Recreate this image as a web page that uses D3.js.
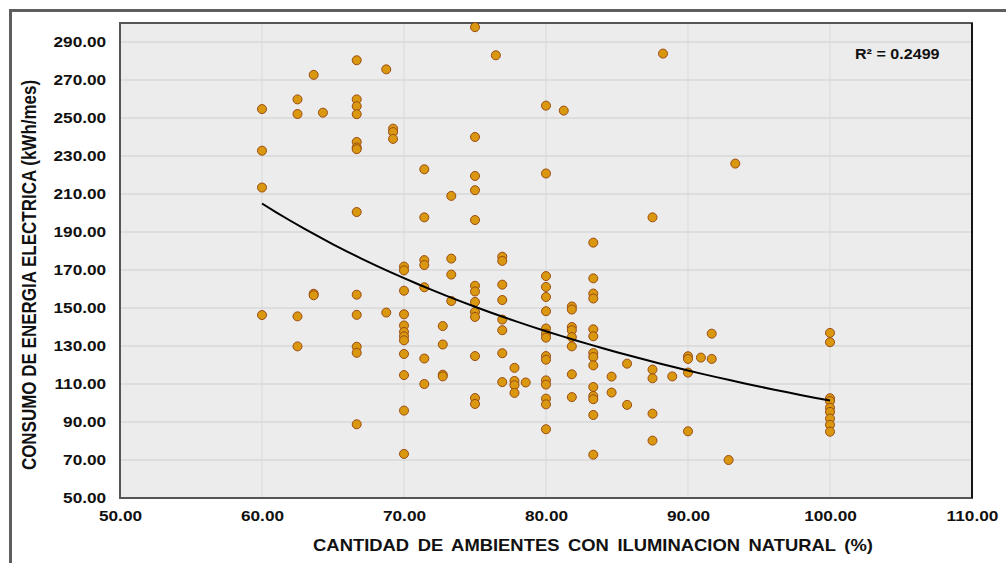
<!DOCTYPE html>
<html>
<head>
<meta charset="utf-8">
<script src="https://cdn.jsdelivr.net/npm/d3@7"></script>
<style>
  body { margin: 0; background: #fff; }
  svg text { font-family: "Liberation Sans", Arial, sans-serif; font-weight: bold; fill: #111; }
</style>
</head>
<body>
<div id="chart"></div>
<script>
// % of rooms with natural light (one entry per column of points)
var ambientes = [60, 62.5, 63.64, 64.29, 66.67, 68.75, 69.23, 70, 71.43, 72.73, 73.33, 75, 76.47, 76.92,
                 77.78, 78.57, 80, 81.25, 81.82, 83.33, 84.62, 85.71, 87.5, 88.24, 88.89, 90, 90.91,
                 91.67, 92.86, 93.33, 100];

// consumption (kWh/mes) read for each column above
var consumo = [
    [254.7, 232.8, 213.4, 146.3],
    [259.8, 252.1, 145.6, 129.8],
    [272.7, 157.5, 156.7],
    [252.8],
    [280.4, 259.8, 256.2, 252.0, 237.4, 234.5, 233.6, 200.5, 157.0, 146.4, 129.6, 126.4, 88.8],
    [275.6, 147.6],
    [244.4, 242.6, 239.0],
    [171.8, 169.8, 159.1, 146.7, 140.8, 137.4, 135.1, 133.0, 125.8, 114.7, 96.0, 73.2],
    [223.0, 197.7, 175.2, 172.6, 160.9, 123.4, 110.0],
    [140.5, 130.8, 114.9, 114.0],
    [209.0, 176.0, 167.6, 153.7],
    [297.8, 240.0, 219.5, 212.0, 196.3, 161.7, 158.7, 153.2, 147.9, 145.3, 124.7, 102.6, 99.5],
    [283.0],
    [177.0, 174.8, 162.3, 154.2, 143.9, 138.3, 126.2, 111.0],
    [118.5, 111.6, 109.4, 105.3],
    [110.8],
    [256.5, 220.8, 166.8, 161.1, 155.8, 148.3, 139.2, 136.5, 134.4, 124.7, 122.8, 111.9, 109.7, 102.3, 99.3, 86.2],
    [253.9],
    [150.8, 149.2, 140.0, 138.3, 134.7, 129.8, 115.1, 103.1],
    [184.4, 165.6, 157.6, 155.0, 138.8, 135.1, 126.3, 124.2, 119.8, 108.4, 103.7, 102.0, 93.7, 72.8],
    [113.9, 105.5],
    [120.7, 99.0],
    [197.7, 117.6, 113.0, 94.4, 80.2],
    [283.9],
    [114.0],
    [124.6, 123.2, 116.0, 85.1],
    [123.9],
    [136.5, 123.2],
    [70.0],
    [226.0],
    [136.9, 132.0, 102.5, 101.0, 97.5, 95.3, 91.8, 88.5, 84.9]
];

var xTicks = [50, 60, 70, 80, 90, 100, 110];
var yTicks = [50, 70, 90, 110, 130, 150, 170, 190, 210, 230, 250, 270, 290];
var r2Label = "R\u00B2 = 0.2499";
var xTitle = "CANTIDAD DE AMBIENTES CON ILUMINACION NATURAL (%)";
var yTitle = "CONSUMO DE ENERGIA ELECTRICA (kWh/mes)";

var outerWidth = 1006;
var outerHeight = 563;
var margin = { left: 120, top: 23, right: 34, bottom: 65 };
var innerWidth  = outerWidth  - margin.left - margin.right;
var innerHeight = outerHeight - margin.top  - margin.bottom;
var stretch = "scale(1.15,1)";

var data = [];
ambientes.forEach(function(x, i) {
    consumo[i].forEach(function(y) {
        data.push({ x: x, y: y });
    });
});

var svg = d3.select("#chart").append("svg")
    .attr("width", outerWidth)
    .attr("height", outerHeight);

// outer frame (cut off at right / bottom like the screenshot)
svg.append("rect")
    .attr("x", 10.5).attr("y", 10.5)
    .attr("width", 1010).attr("height", 570)
    .attr("fill", "none")
    .attr("stroke", "#5e5e5e")
    .attr("stroke-width", 3);

var g = svg.append("g")
    .attr("transform", "translate(" + margin.left + "," + margin.top + ")");

var xScale = d3.scaleLinear().domain([50, 110]).range([0, innerWidth]);
var yScale = d3.scaleLinear().domain([50, 300]).range([innerHeight, 0]);

g.append("rect")
    .attr("width", innerWidth)
    .attr("height", innerHeight)
    .attr("fill", "#ececec");

// grid
g.append("g").selectAll("line").data(yTicks).enter().append("line")
    .attr("x1", 0).attr("x2", innerWidth)
    .attr("y1", function(d) { return yScale(d); })
    .attr("y2", function(d) { return yScale(d); })
    .attr("stroke", "#d9d9d9").attr("stroke-width", 1.5);
g.append("g").selectAll("line").data(xTicks).enter().append("line")
    .attr("y1", 0).attr("y2", innerHeight)
    .attr("x1", function(d) { return xScale(d); })
    .attr("x2", function(d) { return xScale(d); })
    .attr("stroke", "#d9d9d9").attr("stroke-width", 1);

// axes
var yAxisG = g.append("g")
    .call(d3.axisLeft(yScale).tickValues(yTicks).tickFormat(d3.format(".2f")).tickSize(0).tickPadding(12));
var xAxisG = g.append("g")
    .attr("transform", "translate(0," + innerHeight + ")")
    .call(d3.axisBottom(xScale).tickValues(xTicks).tickFormat(d3.format(".2f")).tickSize(0).tickPadding(12));
[yAxisG, xAxisG].forEach(function(a) {
    a.select(".domain").remove();
    a.selectAll("text")
        .attr("font-size", 15)
        .attr("font-family", null)
        .attr("fill", "#111")
        .attr("transform", stretch);
});

// plot border
g.append("rect")
    .attr("width", innerWidth)
    .attr("height", innerHeight)
    .attr("fill", "none")
    .attr("stroke", "#555")
    .attr("stroke-width", 2);
g.append("line")
    .attr("x1", innerWidth).attr("x2", innerWidth)
    .attr("y1", 0).attr("y2", innerHeight)
    .attr("stroke", "#000").attr("stroke-width", 1.5);

// power trend line (least squares on logs, like Excel)
var lx = data.map(function(d) { return Math.log(d.x); });
var ly = data.map(function(d) { return Math.log(d.y); });
var mx = d3.mean(lx), my = d3.mean(ly);
var b = d3.sum(lx, function(v, i) { return (v - mx) * (ly[i] - my); }) /
        d3.sum(lx, function(v) { return (v - mx) * (v - mx); });
var a = Math.exp(my - b * mx);
var xMin = d3.min(ambientes), xMax = d3.max(ambientes);
var trend = d3.range(0, 41).map(function(i) {
    var x = xMin + (xMax - xMin) * i / 40;
    return [x, a * Math.pow(x, b)];
});

// points
g.append("g").selectAll("circle").data(data).enter().append("circle")
    .attr("cx", function(d) { return xScale(d.x); })
    .attr("cy", function(d) { return yScale(d.y); })
    .attr("r", 4.5)
    .attr("fill", "#d9980f")
    .attr("stroke", "#9a4c12")
    .attr("stroke-width", 1);

g.append("path")
    .datum(trend)
    .attr("fill", "none")
    .attr("stroke", "#000")
    .attr("stroke-width", 2)
    .attr("d", d3.line()
        .x(function(d) { return xScale(d[0]); })
        .y(function(d) { return yScale(d[1]); }));

// labels
svg.append("text")
    .attr("transform", "translate(855,54) " + stretch)
    .attr("dy", "0.35em")
    .attr("font-size", 14)
    .text(r2Label);

svg.append("text")
    .attr("transform", "translate(593,545) " + stretch)
    .attr("dy", "0.35em")
    .attr("text-anchor", "middle")
    .attr("font-size", 16)
    .attr("word-spacing", 3)
    .text(xTitle);

svg.append("text")
    .attr("transform", "translate(29,275) " + stretch + " rotate(-90)")
    .attr("dy", "0.35em")
    .attr("text-anchor", "middle")
    .attr("font-size", 17)
    .text(yTitle);
</script>
</body>
</html>
